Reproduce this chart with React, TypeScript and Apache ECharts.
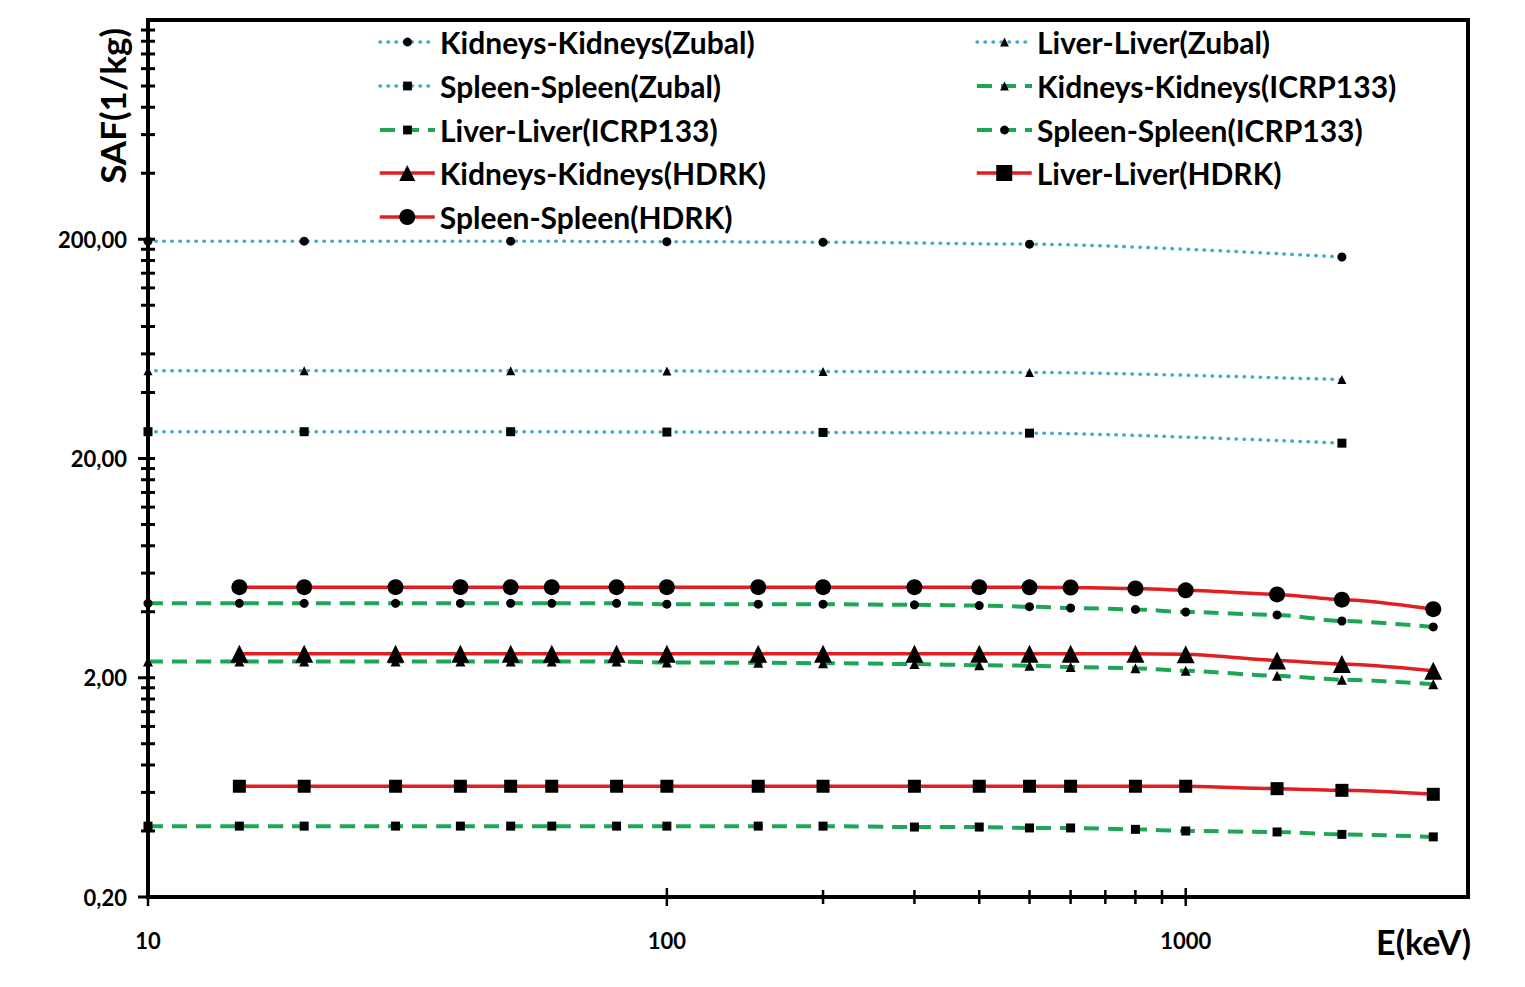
import React, { useEffect, useRef } from 'react';
import * as echarts from 'echarts';

// ---------- data ----------
const energyZubal = [10, 20, 50, 100, 200, 500, 2000];
const kidneysZubal = [196, 196, 196, 195, 194, 190, 166];
const liverZubal = [50.2, 50.2, 50.2, 50.1, 49.9, 49.4, 45.8];
const spleenZubal = [26.5, 26.5, 26.5, 26.4, 26.3, 26.1, 23.5];

const energyICRP = [10, 15, 20, 30, 40, 50, 60, 80, 100, 150, 200, 300, 400, 500, 600, 800, 1000, 1500, 2000, 3000];
const kidneysICRP = [2.37, 2.37, 2.37, 2.37, 2.37, 2.37, 2.37, 2.37, 2.35, 2.34, 2.33, 2.31, 2.28, 2.27, 2.24, 2.21, 2.15, 2.04, 1.96, 1.87];
const liverICRP = [0.421, 0.421, 0.421, 0.421, 0.421, 0.421, 0.421, 0.421, 0.421, 0.421, 0.421, 0.417, 0.417, 0.413, 0.413, 0.407, 0.4, 0.396, 0.386, 0.376];
const spleenICRP = [4.37, 4.37, 4.37, 4.37, 4.37, 4.37, 4.37, 4.37, 4.33, 4.33, 4.33, 4.3, 4.27, 4.22, 4.16, 4.1, 3.99, 3.87, 3.63, 3.41];

const energyHDRK = [15, 20, 30, 40, 50, 60, 80, 100, 150, 200, 300, 400, 500, 600, 800, 1000, 1500, 2000, 3000];
const kidneysHDRK = [2.57, 2.57, 2.57, 2.57, 2.57, 2.57, 2.57, 2.57, 2.57, 2.57, 2.57, 2.57, 2.57, 2.57, 2.57, 2.56, 2.4, 2.31, 2.15];
const liverHDRK = [0.64, 0.64, 0.64, 0.64, 0.64, 0.64, 0.64, 0.64, 0.64, 0.64, 0.64, 0.64, 0.64, 0.64, 0.64, 0.64, 0.624, 0.613, 0.588];
const spleenHDRK = [5.18, 5.18, 5.18, 5.18, 5.18, 5.18, 5.18, 5.18, 5.18, 5.18, 5.18, 5.18, 5.17, 5.16, 5.11, 5.01, 4.8, 4.54, 4.11];

const xMajorTicks = [10, 100, 1000];
const xTickLabels = ['10', '100', '1000'];
const xMinorTicks = [200, 300, 400, 500, 600, 700, 800, 900];
const yMajorTicks = [0.2, 2, 20, 200];
const yTickLabels = ['0,20', '2,00', '20,00', '200,00'];
const yMinorTicks = [
  0.4, 0.6, 0.8, 1.0, 1.2, 1.4, 1.6, 1.8,
  4, 6, 8, 10, 12, 14, 16, 18,
  40, 60, 80, 100, 120, 140, 160, 180,
  400, 600, 800, 1000, 1200, 1400, 1600, 1800,
];

const X_MIN = 10;
const X_MAX = 3500;
const Y_MIN = 0.2;
const Y_MAX = 2000;

const NAMES = {
  kz: 'Kidneys-Kidneys(Zubal)',
  lz: 'Liver-Liver(Zubal)',
  sz: 'Spleen-Spleen(Zubal)',
  ki: 'Kidneys-Kidneys(ICRP133)',
  li: 'Liver-Liver(ICRP133)',
  si: 'Spleen-Spleen(ICRP133)',
  kh: 'Kidneys-Kidneys(HDRK)',
  lh: 'Liver-Liver(HDRK)',
  sh: 'Spleen-Spleen(HDRK)',
};

const CYAN = '#45acc8';
const GREEN = '#1ca656';
const RED = '#e11f22';
const FONT = 'Lato';

const zip = (xs: number[], ys: number[]) => xs.map((x, i) => [x, ys[i]]);

function lineSeries(name: string, xs: number[], ys: number[], color: string, dash: any, width: number, cap: string, symbol: string, size: any, z: number) {
  return {
    type: 'line',
    name,
    data: zip(xs, ys),
    symbol,
    symbolSize: size,
    smooth: 0.25,
    smoothMonotone: 'x',
    z,
    itemStyle: { color: '#000' },
    lineStyle: { color, width, type: dash, cap },
    emphasis: { disabled: true },
  };
}

const legendText = {
  fontFamily: FONT,
  fontWeight: 'bold',
  fontSize: 30,
  color: '#000',
  lineHeight: 30,
};

function legend(left: number, top: number, data: string[], itemHeight: number) {
  return {
    orient: 'vertical',
    left,
    top,
    padding: 0,
    itemGap: 14,
    itemWidth: 55,
    itemHeight,
    selectedMode: false,
    data,
    textStyle: legendText,
    lineStyle: { width: 'inherit', type: 'inherit', color: 'inherit', cap: 'inherit' },
  };
}

export default function App() {
  const ref = useRef<HTMLDivElement>(null);

  useEffect(() => {
    if (!ref.current) return;
    const chart = echarts.init(ref.current, undefined, { renderer: 'svg' });

    const tickFont = `bold 22px ${FONT}`;

    const xTicksMajor = {
      type: 'custom',
      silent: true,
      clip: false,
      z: 30,
      data: xMajorTicks.map((v) => [v, Y_MIN]),
      renderItem: (params: any, api: any) => {
        const p = api.coord([api.value(0), api.value(1)]);
        return {
          type: 'group',
          children: [
            { type: 'line', shape: { x1: p[0], y1: p[1] - 9, x2: p[0], y2: p[1] + 9 }, style: { stroke: '#000', lineWidth: 2.5 } },
            {
              type: 'text',
              x: p[0],
              y: p[1] + 43,
              style: { text: xTickLabels[params.dataIndex], font: tickFont, fill: '#000', align: 'center', textAlign: 'center', verticalAlign: 'middle', textVerticalAlign: 'middle' },
            },
          ],
        };
      },
    };

    const xTicksMinor = {
      type: 'custom',
      silent: true,
      clip: false,
      z: 30,
      data: xMinorTicks.map((v) => [v, Y_MIN]),
      renderItem: (params: any, api: any) => {
        const p = api.coord([api.value(0), api.value(1)]);
        return { type: 'line', shape: { x1: p[0], y1: p[1] - 7, x2: p[0], y2: p[1] + 7 }, style: { stroke: '#000', lineWidth: 2.5 } };
      },
    };

    const yTicksMajor = {
      type: 'custom',
      silent: true,
      clip: false,
      z: 30,
      data: yMajorTicks.map((v) => [X_MIN, v]),
      renderItem: (params: any, api: any) => {
        const p = api.coord([api.value(0), api.value(1)]);
        return {
          type: 'group',
          children: [
            { type: 'line', shape: { x1: p[0] - 10, y1: p[1], x2: p[0] + 7, y2: p[1] }, style: { stroke: '#000', lineWidth: 3 } },
            {
              type: 'text',
              x: p[0] - 21,
              y: p[1],
              style: { text: yTickLabels[params.dataIndex], font: tickFont, fill: '#000', align: 'right', textAlign: 'right', verticalAlign: 'middle', textVerticalAlign: 'middle' },
            },
          ],
        };
      },
    };

    const yTicksMinor = {
      type: 'custom',
      silent: true,
      clip: false,
      z: 30,
      data: yMinorTicks.map((v) => [X_MIN, v]),
      renderItem: (params: any, api: any) => {
        const p = api.coord([api.value(0), api.value(1)]);
        return { type: 'line', shape: { x1: p[0] - 7, y1: p[1], x2: p[0] + 7, y2: p[1] }, style: { stroke: '#000', lineWidth: 3 } };
      },
    };

    const dotted = [0.5, 7.5];
    const dashed = [15, 9];

    chart.setOption({
      animation: false,
      backgroundColor: '#fff',
      grid: {
        left: 148,
        right: 57,
        top: 20,
        bottom: 90,
        show: true,
        borderColor: '#000',
        borderWidth: 4,
        backgroundColor: 'transparent',
      },
      xAxis: {
        type: 'log',
        logBase: 10,
        min: X_MIN,
        max: X_MAX,
        axisLine: { show: true, lineStyle: { color: '#000', width: 4 } },
        axisTick: { show: false },
        axisLabel: { show: false },
        splitLine: { show: false },
        minorTick: { show: false },
      },
      yAxis: {
        type: 'log',
        logBase: 10,
        min: Y_MIN,
        max: Y_MAX,
        axisLine: { show: true, lineStyle: { color: '#000', width: 4 } },
        axisTick: { show: false },
        axisLabel: { show: false },
        splitLine: { show: false },
        minorTick: { show: false },
      },
      legend: [
        legend(378, 27, [NAMES.kz, NAMES.sz, NAMES.li], 11),
        legend(378, 158, [NAMES.kh, NAMES.sh], 20),
        legend(975, 27, [NAMES.lz, NAMES.ki, NAMES.si], 11),
        legend(975, 158, [NAMES.lh], 20),
      ],
      graphic: [
        {
          type: 'text',
          x: 112,
          y: 28,
          rotation: Math.PI / 2,
          style: { text: 'SAF(1/kg)', font: `bold 35px ${FONT}`, fill: '#000', align: 'right', textAlign: 'right', verticalAlign: 'middle', textVerticalAlign: 'middle' },
          z: 50,
        },
        {
          type: 'text',
          x: 1471,
          y: 941,
          style: { text: 'E(keV)', font: `bold 34px ${FONT}`, fill: '#000', align: 'right', textAlign: 'right', verticalAlign: 'middle', textVerticalAlign: 'middle' },
          z: 50,
        },
      ],
      series: [
        lineSeries(NAMES.kz, energyZubal, kidneysZubal, CYAN, dotted, 3.5, 'round', 'circle', 9, 3),
        lineSeries(NAMES.lz, energyZubal, liverZubal, CYAN, dotted, 3.5, 'round', 'triangle', 9, 3),
        lineSeries(NAMES.sz, energyZubal, spleenZubal, CYAN, dotted, 3.5, 'round', 'rect', 9, 3),
        lineSeries(NAMES.ki, energyICRP, kidneysICRP, GREEN, dashed, 4, 'butt', 'triangle', 10, 4),
        lineSeries(NAMES.li, energyICRP, liverICRP, GREEN, dashed, 4, 'butt', 'rect', 9, 4),
        lineSeries(NAMES.si, energyICRP, spleenICRP, GREEN, dashed, 4, 'butt', 'circle', 9, 4),
        lineSeries(NAMES.kh, energyHDRK, kidneysHDRK, RED, 'solid', 3.5, 'butt', 'triangle', 18, 5),
        lineSeries(NAMES.lh, energyHDRK, liverHDRK, RED, 'solid', 3.5, 'butt', 'rect', 13, 5),
        lineSeries(NAMES.sh, energyHDRK, spleenHDRK, RED, 'solid', 3.5, 'butt', 'circle', 16, 5),
        xTicksMajor,
        xTicksMinor,
        yTicksMajor,
        yTicksMinor,
      ],
    });

    return () => chart.dispose();
  }, []);

  return (
    <div
      ref={ref}
      style={{ position: 'absolute', left: 0, top: 0, width: 1525, height: 987, background: '#fff' }}
    />
  );
}
